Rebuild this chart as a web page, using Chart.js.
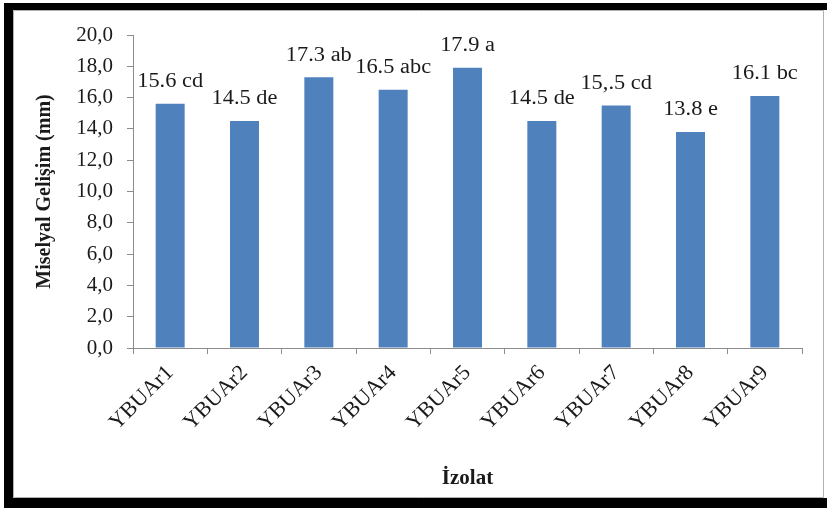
<!DOCTYPE html>
<html>
<head>
<meta charset="utf-8">
<script src="https://cdn.jsdelivr.net/npm/chart.js@4/dist/chart.umd.min.js"></script>
<style>
  html, body { margin: 0; padding: 0; background: #ffffff; }
  #wrap { position: relative; width: 827px; height: 508px; }
</style>
</head>
<body>
<div id="wrap"><canvas id="chart" width="827" height="508"></canvas></div>
<script>
// Isolates and their mean mycelial growth (mm)
const categories = ['YBUAr1', 'YBUAr2', 'YBUAr3', 'YBUAr4', 'YBUAr5', 'YBUAr6', 'YBUAr7', 'YBUAr8', 'YBUAr9'];
const growthValues = [15.6, 14.5, 17.3, 16.5, 17.9, 14.5, 15.5, 13.8, 16.1];
// Significance groups written after each mean
const groupLetters = ['cd', 'de', 'ab', 'abc', 'a', 'de', 'cd', 'e', 'bc'];
// Mean text as printed above each bar
const valueTexts = ['15.6', '14.5', '17.3', '16.5', '17.9', '14.5', '15,.5', '13.8', '16.1'];
const yTicks = [0, 2, 4, 6, 8, 10, 12, 14, 16, 18, 20];

const SERIF = '"Liberation Serif", "Times New Roman", serif';
const AXIS_GREY = '#8c8c8c';

// Black frame with a thin grey inner edge around the whole chart
const framePlugin = {
  id: 'frame',
  beforeDraw(chart) {
    const ctx = chart.ctx;
    const W = chart.width, H = chart.height;
    ctx.save();
    ctx.fillStyle = '#ffffff';
    ctx.fillRect(0, 0, W, H);
    ctx.fillStyle = '#000000';
    ctx.fillRect(4, 3, 9, H - 3);       // left band
    ctx.fillRect(4, 3, W - 4, 7);       // top band
    ctx.fillRect(4, 498, W - 4, H - 498); // bottom band
    ctx.strokeStyle = '#b0b0b0';
    ctx.lineWidth = 1;
    ctx.beginPath();
    ctx.moveTo(13.5, 10.5); ctx.lineTo(823.5, 10.5);
    ctx.lineTo(823.5, 497.5); ctx.lineTo(13.5, 497.5);
    ctx.closePath();
    ctx.stroke();
    ctx.restore();
  }
};

// Mean and group letters above each bar
const barLabelPlugin = {
  id: 'barLabels',
  afterDatasetsDraw(chart) {
    const ctx = chart.ctx;
    const meta = chart.getDatasetMeta(0);
    ctx.save();
    ctx.font = '20px ' + SERIF;
    ctx.fillStyle = '#1a1a1a';
    ctx.textAlign = 'center';
    ctx.textBaseline = 'middle';
    meta.data.forEach((bar, i) => {
      const text = valueTexts[i] + ' ' + groupLetters[i];
      ctx.save();
      ctx.translate(bar.x, bar.y - 22);
      ctx.scale(1.12, 1);
      ctx.fillText(text, 0, 0);
      ctx.restore();
    });
    ctx.restore();
  }
};

new Chart(document.getElementById('chart'), {
  type: 'bar',
  data: {
    labels: categories,
    datasets: [{
      data: growthValues,
      backgroundColor: '#4F81BD',
      borderWidth: 0,
      barPercentage: 0.39,
      categoryPercentage: 1.0
    }]
  },
  options: {
    responsive: false,
    animation: false,
    devicePixelRatio: 1,
    layout: { padding: { left: 20, top: 35, right: 25, bottom: 17 } },
    plugins: {
      legend: { display: false },
      tooltip: { enabled: false }
    },
    scales: {
      x: {
        grid: {
          display: true,
          drawOnChartArea: false,
          drawTicks: true,
          tickLength: 6,
          color: AXIS_GREY,
          offset: true
        },
        border: { display: true, color: AXIS_GREY, width: 1 },
        ticks: {
          color: '#1a1a1a',
          font: { family: SERIF, size: 22 },
          minRotation: 45,
          maxRotation: 45,
          padding: 6,
          autoSkip: false
        },
        title: {
          display: true,
          text: 'İzolat',
          color: '#1a1a1a',
          font: { family: SERIF, size: 21, weight: 'bold' },
          padding: { top: 0, bottom: 0 }
        },
        afterFit(scale) { scale.height = 143; }
      },
      y: {
        min: 0,
        max: 20,
        afterBuildTicks(scale) { scale.ticks = yTicks.map(v => ({ value: v })); },
        grid: {
          display: true,
          drawOnChartArea: false,
          drawTicks: true,
          tickLength: 6,
          color: AXIS_GREY
        },
        border: { display: true, color: AXIS_GREY, width: 1 },
        ticks: {
          color: '#1a1a1a',
          font: { family: SERIF, size: 21 },
          padding: 14,
          callback: (v) => Number(v).toFixed(1).replace('.', ',')
        },
        title: {
          display: true,
          text: 'Miselyal Gelişim (mm)',
          color: '#1a1a1a',
          font: { family: SERIF, size: 20, weight: 'bold' },
          padding: { top: 13, bottom: 0 }
        },
        afterFit(scale) { scale.width = 113; }
      }
    }
  },
  plugins: [framePlugin, barLabelPlugin]
});
</script>
</body>
</html>
